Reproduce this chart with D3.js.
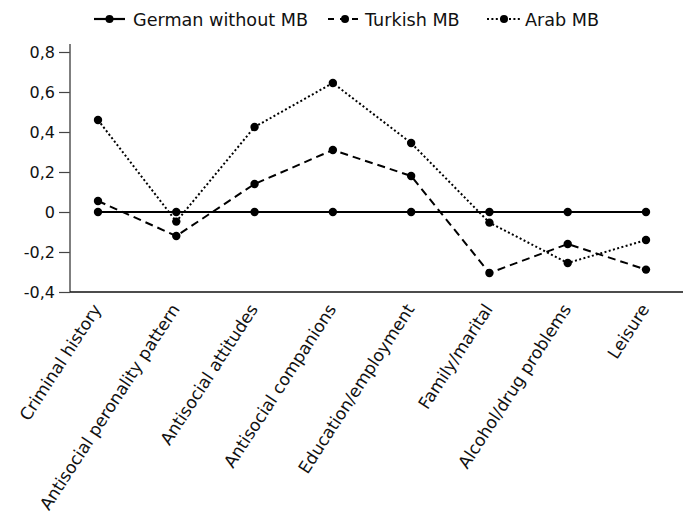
<!DOCTYPE html>
<html>
<head>
<meta charset="utf-8">
<script src="https://cdn.jsdelivr.net/npm/d3@7"></script>
<style>
  html, body { margin: 0; padding: 0; background: #fff; }
  svg { display: block; font-family: "DejaVu Sans", sans-serif; }
</style>
</head>
<body>
<svg id="chart" width="683" height="518"></svg>
<script>
// Risk/need domains on the x axis
const categories = [
  "Criminal history",
  "Antisocial peronality pattern",
  "Antisocial attitudes",
  "Antisocial companions",
  "Education/employment",
  "Family/marital",
  "Alcohol/drug problems",
  "Leisure"
];

// Group differences relative to the German reference group
const germanValues  = [0, 0, 0, 0, 0, 0, 0, 0];
const turkishValues = [0.055, -0.12, 0.14, 0.31, 0.18, -0.305, -0.16, -0.288];
const arabValues    = [0.46, -0.048, 0.425, 0.645, 0.345, -0.053, -0.255, -0.14];

const seriesNames = ["German without MB", "Turkish MB", "Arab MB"];
const yTicks = [0.8, 0.6, 0.4, 0.2, 0, -0.2, -0.4];

const series = [
  { name: seriesNames[0], values: germanValues,  dash: null },
  { name: seriesNames[1], values: turkishValues, dash: "8,5" },
  { name: seriesNames[2], values: arabValues,    dash: "2,2.4" }
];

const svg = d3.select("#chart");
const axisLeft = 70, axisRight = 683, axisTop = 44, axisBottom = 292;

const x = d3.scalePoint().domain(categories).range([98, 646]);
const y = d3.scaleLinear().domain([-0.4, 0.8]).range([292, 52]);

const fmt = v => v === 0 ? "0" : d3.format(".1f")(v).replace(".", ",").replace("−", "-");

// y axis
const yAxis = svg.append("g")
  .attr("transform", `translate(${axisLeft},0)`)
  .call(d3.axisLeft(y).tickValues(yTicks).tickFormat(fmt).tickSize(11).tickPadding(4));
yAxis.select(".domain").remove();
yAxis.selectAll(".tick line").attr("stroke", "#444").attr("stroke-width", 1.2);
yAxis.selectAll(".tick text")
  .attr("font-size", 16).attr("font-family", "DejaVu Sans, sans-serif").attr("fill", "#111");
svg.append("line")
  .attr("x1", axisLeft).attr("x2", axisLeft)
  .attr("y1", axisTop).attr("y2", axisBottom)
  .attr("stroke", "#555").attr("stroke-width", 1.5);

// x axis baseline
svg.append("line")
  .attr("x1", axisLeft).attr("x2", axisRight)
  .attr("y1", axisBottom).attr("y2", axisBottom)
  .attr("stroke", "#111").attr("stroke-width", 1.5);

// rotated category labels
svg.append("g").selectAll("text")
  .data(categories)
  .join("text")
  .attr("transform", d => `translate(${x(d) + 4},${axisBottom + 17}) rotate(-57)`)
  .attr("text-anchor", "end")
  .attr("font-size", 17)
  .attr("fill", "#111")
  .text(d => d);

// series lines and markers
const line = d3.line()
  .x((v, i) => x(categories[i]))
  .y(v => y(v));

series.forEach(s => {
  svg.append("path")
    .datum(s.values)
    .attr("d", line)
    .attr("fill", "none")
    .attr("stroke", "#000")
    .attr("stroke-width", 2)
    .attr("stroke-dasharray", s.dash);
});
series.forEach(s => {
  svg.append("g").selectAll("circle")
    .data(s.values)
    .join("circle")
    .attr("cx", (v, i) => x(categories[i]))
    .attr("cy", v => y(v))
    .attr("r", 4.2)
    .attr("fill", "#000");
});

// legend
const legendX = [94, 328, 487];
const legendY = 19;
const legend = svg.append("g");
series.forEach((s, i) => {
  const g = legend.append("g").attr("transform", `translate(${legendX[i]},${legendY})`);
  const w = i === 0 ? 31 : 34;
  g.append("line")
    .attr("x1", 0).attr("x2", w).attr("y1", 0).attr("y2", 0)
    .attr("stroke", "#000").attr("stroke-width", 2.2)
    .attr("stroke-dasharray", i === 1 ? "6,6" : (i === 2 ? "2,2.4" : null));
  g.append("circle").attr("cx", w / 2).attr("cy", 0).attr("r", 4).attr("fill", "#000");
  g.append("text")
    .attr("x", i === 0 ? 39 : (i === 1 ? 37 : 38))
    .attr("y", 6.5)
    .attr("font-size", 17.6)
    .attr("fill", "#111")
    .text(s.name);
});
</script>
</body>
</html>
